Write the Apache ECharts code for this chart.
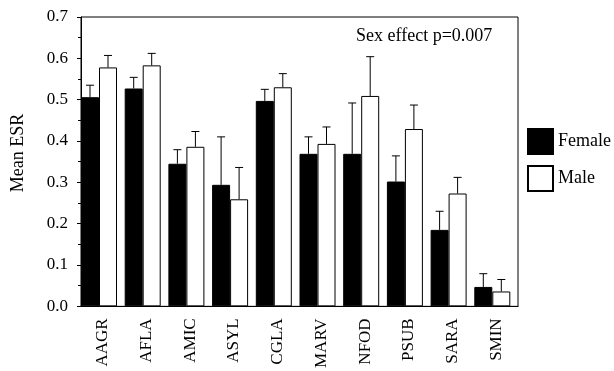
<!DOCTYPE html>
<html>
<head>
<meta charset="utf-8">
<script src="https://cdn.jsdelivr.net/npm/echarts@6/dist/echarts.min.js"></script>
<style>html,body{margin:0;padding:0;background:#fff}#c{width:614px;height:371px}</style>
</head>
<body>
<div id="c"></div>
<script>
// ---- data ----
var categories = ['AAGR','AFLA','AMIC','ASYL','CGLA','MARV','NFOD','PSUB','SARA','SMIN'];
var femaleMean = [0.506, 0.527, 0.345, 0.294, 0.497, 0.369, 0.369, 0.302, 0.185, 0.047];
var maleMean   = [0.578, 0.583, 0.386, 0.259, 0.530, 0.393, 0.509, 0.429, 0.273, 0.036];
var femaleUpper = [0.535, 0.554, 0.379, 0.410, 0.525, 0.410, 0.492, 0.364, 0.230, 0.079];
var maleUpper   = [0.607, 0.612, 0.423, 0.336, 0.563, 0.434, 0.604, 0.487, 0.312, 0.065];
var yTicks = [0, 0.1, 0.2, 0.3, 0.4, 0.5, 0.6, 0.7];
var seriesNames = ['Female', 'Male'];
var annotation = 'Sex effect p=0.007';
var yTitle = 'Mean ESR';

// ---- layout constants ----
var FONT = '"Liberation Serif", "DejaVu Serif", serif';
var BAR_W = 18, SPACER_W = 7.7;

function errSeries(name, means, uppers, slot) {
  return {
    type: 'custom',
    name: name + ' err',
    z: 3,
    silent: true,
    data: categories.map(function (c, i) { return [i, means[i], uppers[i]]; }),
    renderItem: function (params, api) {
      var i = api.value(0);
      var bw = api.size([1, 0])[0];
      var base = api.coord([i, api.value(1)]);
      var top = api.coord([i, api.value(2)]);
      var x = base[0] - bw / 2 + BAR_W * slot + BAR_W / 2;
      var style = { stroke: '#000', lineWidth: 1 };
      return {
        type: 'group',
        children: [
          { type: 'line', shape: { x1: x, y1: base[1], x2: x, y2: top[1] }, style: style },
          { type: 'line', shape: { x1: x - 4, y1: top[1], x2: x + 4, y2: top[1] }, style: style }
        ]
      };
    }
  };
}

var chart = echarts.init(document.getElementById('c'));
chart.setOption({
  animation: false,
  backgroundColor: '#fff',
  textStyle: { fontFamily: FONT, color: '#000' },
  grid: { left: 81, top: 17, width: 437, height: 292, show: true, borderColor: '#000', borderWidth: 1, backgroundColor: 'transparent' },
  legend: {
    orient: 'vertical', left: 527, top: 128, padding: 0,
    itemWidth: 25, itemHeight: 25, itemGap: 10,
    icon: 'rect',
    data: seriesNames,
    textStyle: { fontFamily: FONT, fontSize: 18, color: '#000' }
  },
  xAxis: {
    type: 'category',
    data: categories,
    axisLine: { lineStyle: { color: '#000' } },
    axisTick: { show: false },
    axisLabel: { rotate: 90, margin: 12, fontFamily: FONT, fontSize: 17, color: '#000' }
  },
  yAxis: {
    type: 'value',
    min: 0, max: 0.7, interval: 0.1,
    axisLine: { show: true, lineStyle: { color: '#000' } },
    axisTick: { show: true, length: 4, lineStyle: { color: '#000' } },
    minorTick: { show: true, splitNumber: 2, length: 3, lineStyle: { color: '#000' } },
    splitLine: { show: false },
    axisLabel: { margin: 13, fontFamily: FONT, fontSize: 17, color: '#000',
      formatter: function (v) { return v.toFixed(1); } }
  },
  graphic: [
    { type: 'text', left: 356, top: 27, style: { text: annotation, font: '18px ' + FONT, fill: '#000' } },
    { type: 'text', x: 18, y: 153, rotation: Math.PI / 2,
      style: { text: yTitle, font: '18px ' + FONT, fill: '#000', align: 'center', verticalAlign: 'middle' } }
  ],
  series: [
    { type: 'bar', name: seriesNames[0], data: femaleMean, barWidth: BAR_W, barGap: 0,
      itemStyle: { color: '#000', borderColor: '#000', borderWidth: 1 } },
    { type: 'bar', name: seriesNames[1], data: maleMean, barWidth: BAR_W, barGap: 0,
      itemStyle: { color: '#fff', borderColor: '#000', borderWidth: 1 } },
    { type: 'bar', name: 'spacer', data: [], barWidth: SPACER_W, barGap: 0, silent: true,
      itemStyle: { color: 'transparent' } },
    errSeries(seriesNames[0], femaleMean, femaleUpper, 0),
    errSeries(seriesNames[1], maleMean, maleUpper, 1)
  ]
});
</script>
</body>
</html>
